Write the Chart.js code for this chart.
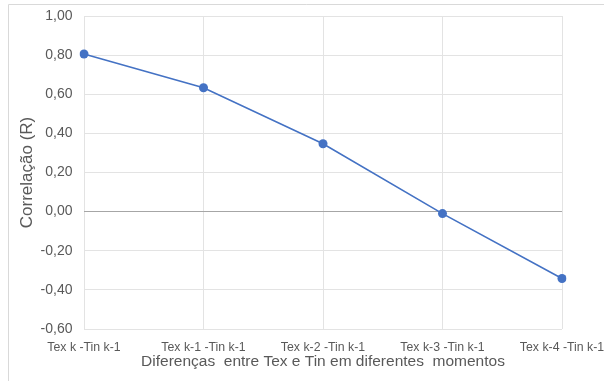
<!DOCTYPE html>
<html>
<head>
<meta charset="utf-8">
<script src="https://cdn.jsdelivr.net/npm/chart.js@4.4.1/dist/chart.umd.min.js"></script>
<style>
  html,body{ margin:0; padding:0; background:#fff; }
  #wrap{ position:relative; width:604px; height:381px; }
</style>
</head>
<body>
<div id="wrap"><canvas id="chart" width="604" height="381"></canvas></div>
<script>
(function(){
  'use strict';

  // dados
  const categorias = ['Tex k -Tin k-1','Tex k-1 -Tin k-1','Tex k-2 -Tin k-1','Tex k-3 -Tin k-1','Tex k-4 -Tin k-1'];
  const correlacao = [0.806, 0.633, 0.347, -0.010, -0.342];
  const yMin = -0.6, yMax = 1.0, yStep = 0.2;
  const tituloX = 'Diferenças  entre Tex e Tin em diferentes  momentos';
  const tituloY = 'Correlação (R)';

  const FONT = "'Liberation Sans', Arial, sans-serif";
  const AZUL = '#4472c4';
  const CINZA = '#595959';
  const GRADE = '#e3e3e3';

  // moldura do gráfico (só topo e esquerda aparecem na janela)
  const moldura = {
    id:'moldura',
    beforeDraw(chart){
      const c = chart.ctx;
      c.save();
      c.strokeStyle = '#d9d9d9'; c.lineWidth = 1;
      c.beginPath();
      c.moveTo(8.5, 381); c.lineTo(8.5, 4.5); c.lineTo(604, 4.5);
      c.stroke();
      c.restore();
    }
  };

  new Chart(document.getElementById('chart'), {
    type:'line',
    data:{
      labels: categorias,
      datasets:[{
        data: correlacao,
        borderColor: AZUL,
        backgroundColor: AZUL,
        borderWidth: 1.6,
        pointRadius: 4.5,
        pointBorderWidth: 0,
        pointBackgroundColor: AZUL,
        tension: 0,
        fill:false
      }]
    },
    options:{
      responsive:false,
      animation:false,
      layout:{ padding:{ left:0, top:16, right:42, bottom:0 } },
      plugins:{ legend:{ display:false }, tooltip:{ enabled:false } },
      scales:{
        x:{
          type:'category',
          offset:false,
          border:{ display:false },
          grid:{ color:GRADE, drawTicks:false },
          ticks:{ color:CINZA, font:{ family:FONT, size:12.3 }, padding:11, maxRotation:0, autoSkip:false },
          title:{ display:true, text:tituloX, color:CINZA, font:{ family:FONT, size:15.5 }, padding:{ top:0, bottom:9.7 } },
          afterFit(s){ s.height = 52; s.paddingLeft = 0; s.paddingRight = 0; }
        },
        y:{
          min:yMin, max:yMax,
          border:{ display:false },
          grid:{ drawTicks:false, color(ctx){ return ctx.tick && Math.abs(ctx.tick.value) < 1e-9 ? '#a6a6a6' : GRADE; } },
          ticks:{
            stepSize:yStep, padding:11.5, color:CINZA, font:{ family:FONT, size:14 },
            callback(v){ return v.toFixed(2).replace('.', ',').replace(/^-0,00$/, '0,00'); }
          },
          title:{ display:true, text:tituloY, color:CINZA, font:{ family:FONT, size:17 }, padding:{ top:17, bottom:0 } },
          afterFit(s){ s.width = 84; s.paddingTop = 0; s.paddingBottom = 0; }
        }
      }
    },
    plugins:[moldura]
  });
})();
</script>
</body>
</html>
